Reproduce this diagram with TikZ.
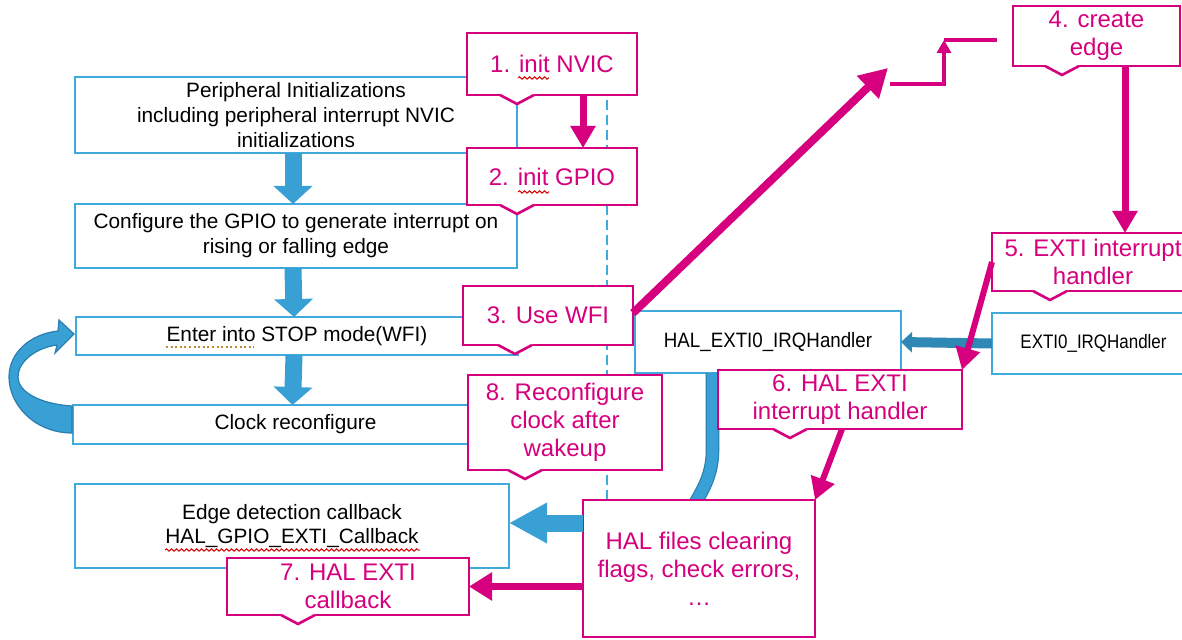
\documentclass[tikz,border=0pt]{standalone}
\usepackage{fontspec}
\usepackage{graphicx}
\setmainfont{Liberation Sans}
\usetikzlibrary{arrows.meta,calc,decorations.pathmorphing}
\definecolor{boxblue}{HTML}{41AADC}
\definecolor{arrblue}{HTML}{38A0D4}
\definecolor{darkblue}{HTML}{2A7EB0}
\definecolor{pinkc}{HTML}{D6007E}
\definecolor{dashblue}{HTML}{3FA9E0}
\definecolor{spellbrown}{HTML}{C08A30}
\newcommand\drawnotch[2]{%
  \fill[white] ($(#1.south west)+(#2-17,-2)$) -- ($(#1.south west)+(#2+17,-2)$) --
    ($(#1.south west)+(#2+17,0)$) -- ($(#1.south west)+(#2,9)$) -- ($(#1.south west)+(#2-17,0)$) -- cycle;
  \draw[pinkc, line width=1.3pt, line join=miter] ($(#1.south west)+(#2-17,0)$) -- ($(#1.south west)+(#2,9)$) -- ($(#1.south west)+(#2+17,0)$);}
\begin{document}
\begin{tikzpicture}[x=0.5pt,y=-0.5pt,
  sz/.style 2 args={minimum width=#1*0.5pt, minimum height=#2*0.5pt},
  bluebox/.style={draw=boxblue, line width=1pt, fill=white, inner sep=0pt, outer sep=0pt,
    align=center, font=\fontsize{10.4}{12.4}\selectfont, text=black},
  pinkbox/.style={draw=pinkc, line width=1.3pt, fill=white, inner sep=0pt, outer sep=0pt,
    align=center, font=\fontsize{12}{14}\selectfont, text=pinkc},
  bigblue/.style={draw=arrblue, line width=8.5pt, -{Triangle[length=9pt,width=19pt]}},
  pinkarrow/.style={draw=pinkc, line width=3.5pt, -{Triangle[length=11pt,width=12pt]}},
  squiggle/.style={red!85!black, line width=0.5pt, decorate,
    decoration={snake, amplitude=0.6pt, segment length=2.5pt}}]
\useasboundingbox (0,0) rectangle (1182,640);
\fill[white] (0,0) rectangle (1182,640);

% dashed separator
\coordinate (dtop) at (607,40);
\coordinate (dbot) at (607,640);
\draw[dashblue, line width=1pt, dash pattern=on 5pt off 2.5pt] (dtop) -- (dbot);

% blue boxes
\node[bluebox, sz={442}{76}] (peri) at (296,115)
  {Peripheral Initializations\\including peripheral interrupt NVIC\\initializations};
\node[bluebox, sz={442}{64}] (conf) at (296,236)
  {Configure the GPIO to generate interrupt on\\rising or falling edge};
\node[bluebox, sz={442}{38}] (enter) at (297,336) {Enter into STOP mode(WFI)};
\node[bluebox, sz={445}{39}] (clock) at (295.5,424.5) {Clock reconfigure};
\node[bluebox, sz={434}{84}] (edge) at (292,526)
  {Edge detection callback\\HAL\_GPIO\_EXTI\_Callback};
\node[bluebox, sz={266}{62}] (halirq) at (768,342) {\scalebox{0.9}[1]{HAL\_EXTI0\_IRQHandler}};
\node[bluebox, sz={203}{61}, font=\fontsize{9.75}{11}\selectfont] (exti) at (1093.5,343.5)
  {\scalebox{0.87}[1]{EXTI0\_IRQHandler}};

% spell-check marks
\draw[spellbrown, line width=1.1pt, dash pattern=on 1pt off 1.3pt] (166,347) -- (254,347);
\draw[squiggle] (165,550) -- (420,550);

% blue block arrows
\draw[bigblue] ([xshift=-1.5pt]peri.south) -- ([xshift=-1.5pt]conf.north);
\draw[bigblue] ([xshift=-1.5pt]conf.south) -- ([xshift=-1.5pt]enter.north);
\draw[bigblue] ([xshift=-1.5pt]enter.south) -- ([xshift=-1.5pt]clock.north);
\draw[draw=arrblue!85!black, line width=5pt, -{Triangle[length=5.5pt,width=10pt]}] (exti.west) -- (halirq.east);

% curved loop arrow
\filldraw[fill=arrblue, draw=darkblue, line width=0.6pt]
  (72,406) .. controls (40,404) and (18,392) .. (18,377)
  .. controls (18,362) and (35,348) .. (57,345)
  -- (55,353) -- (74,334) -- (59,320) -- (58,331)
  .. controls (30,334) and (9,353) .. (9,377)
  .. controls (9,405) and (35,433) .. (72,433) -- cycle;

% band from HAL_EXTI0 handler into HAL files box
\coordinate (bandtop) at ($(halirq.south west)+(77.5,0)$);
\coordinate (bandmid) at ($(bandtop)+(0,77)$);
\coordinate (bandend) at (690,512);
\draw[darkblue, line width=6.8pt] (bandtop) -- (bandmid) .. controls ($(bandmid)+(0,28)$) and ($(bandend)+(10,-18)$) .. (bandend);
\draw[arrblue, line width=5.6pt] (bandtop) -- (bandmid) .. controls ($(bandmid)+(0,28)$) and ($(bandend)+(10,-18)$) .. (bandend);

% pink boxes
\node[pinkbox, sz={170}{62}] (b1) at (552,64) {1. init NVIC};
\drawnotch{b1}{50}
\node[pinkbox, sz={170}{57}] (b2) at (552,176.5) {2. init GPIO};
\drawnotch{b2}{50}
\node[pinkbox, sz={170}{59}] (b3) at (548,315.5) {3. Use WFI};
\drawnotch{b3}{52}
\node[pinkbox, sz={194}{95}] (b8) at (565,422.5) {8. Reconfigure\\clock after\\wakeup};
\drawnotch{b8}{57}
\node[pinkbox, sz={167}{60}] (b4) at (1096.5,36) {4. create\\edge};
\drawnotch{b4}{49}
\node[pinkbox, sz={202}{58}] (b5) at (1093,262) {5. EXTI interrupt\\handler};
\drawnotch{b5}{58}
\node[pinkbox, sz={244}{59}] (b6) at (840,399.5) {6. HAL EXTI\\interrupt handler};
\drawnotch{b6}{72}
\node[pinkbox, sz={232}{137}] (hal) at (699,568.5) {HAL files clearing\\flags, check errors,\\…};
\node[pinkbox, sz={242}{57}] (b7) at (348,586.5) {7. HAL EXTI\\callback};
\drawnotch{b7}{71}

% squiggles under "init"
\draw[squiggle] (518,78) -- (549,78);
\draw[squiggle] (518,192) -- (549,192);

% blue arrow from HAL files to callback box
\draw[arrblue, line width=8.5pt, -{Triangle[length=19pt,width=19pt]}]
  ([yshift=1.5pt]hal.west |- edge.east) -- ([yshift=1.5pt]edge.east);

% pink arrows
\draw[pinkarrow] ($(b1.south west)+(116,0)$) -- ($(b2.north west)+(116,0)$);
\coordinate (wfi) at ($(b3.north east)+(0,27)$);
\coordinate (wfitip) at (888,68);
\draw[draw=pinkc, line width=4pt, -{Triangle[length=14pt,width=15pt]}] (wfi) -- (wfitip);
\coordinate (e1) at (890,84);
\coordinate (e2) at (944,40);
\coordinate (e3) at (997,40);
\draw[draw=pinkc, line width=2pt, -{Triangle[length=6.5pt,width=7pt]}] (e1) -| (e2);
\draw[draw=pinkc, line width=2pt] (e2) -- (e3);
\draw[pinkarrow] ($(b4.south west)+(112,0)$) -- ($(b5.north west)+(133,0)$);
\draw[pinkarrow, line width=3pt] (b5.west) -- (b6.north east);
\draw[pinkarrow, line width=3pt] ($(b6.south west)+(124,0)$) -- (hal.north east);
\draw[pinkarrow, -{Triangle[length=11.5pt,width=13.5pt]}] (hal.west |- b7.east) -- (b7.east);
\end{tikzpicture}
\end{document}
